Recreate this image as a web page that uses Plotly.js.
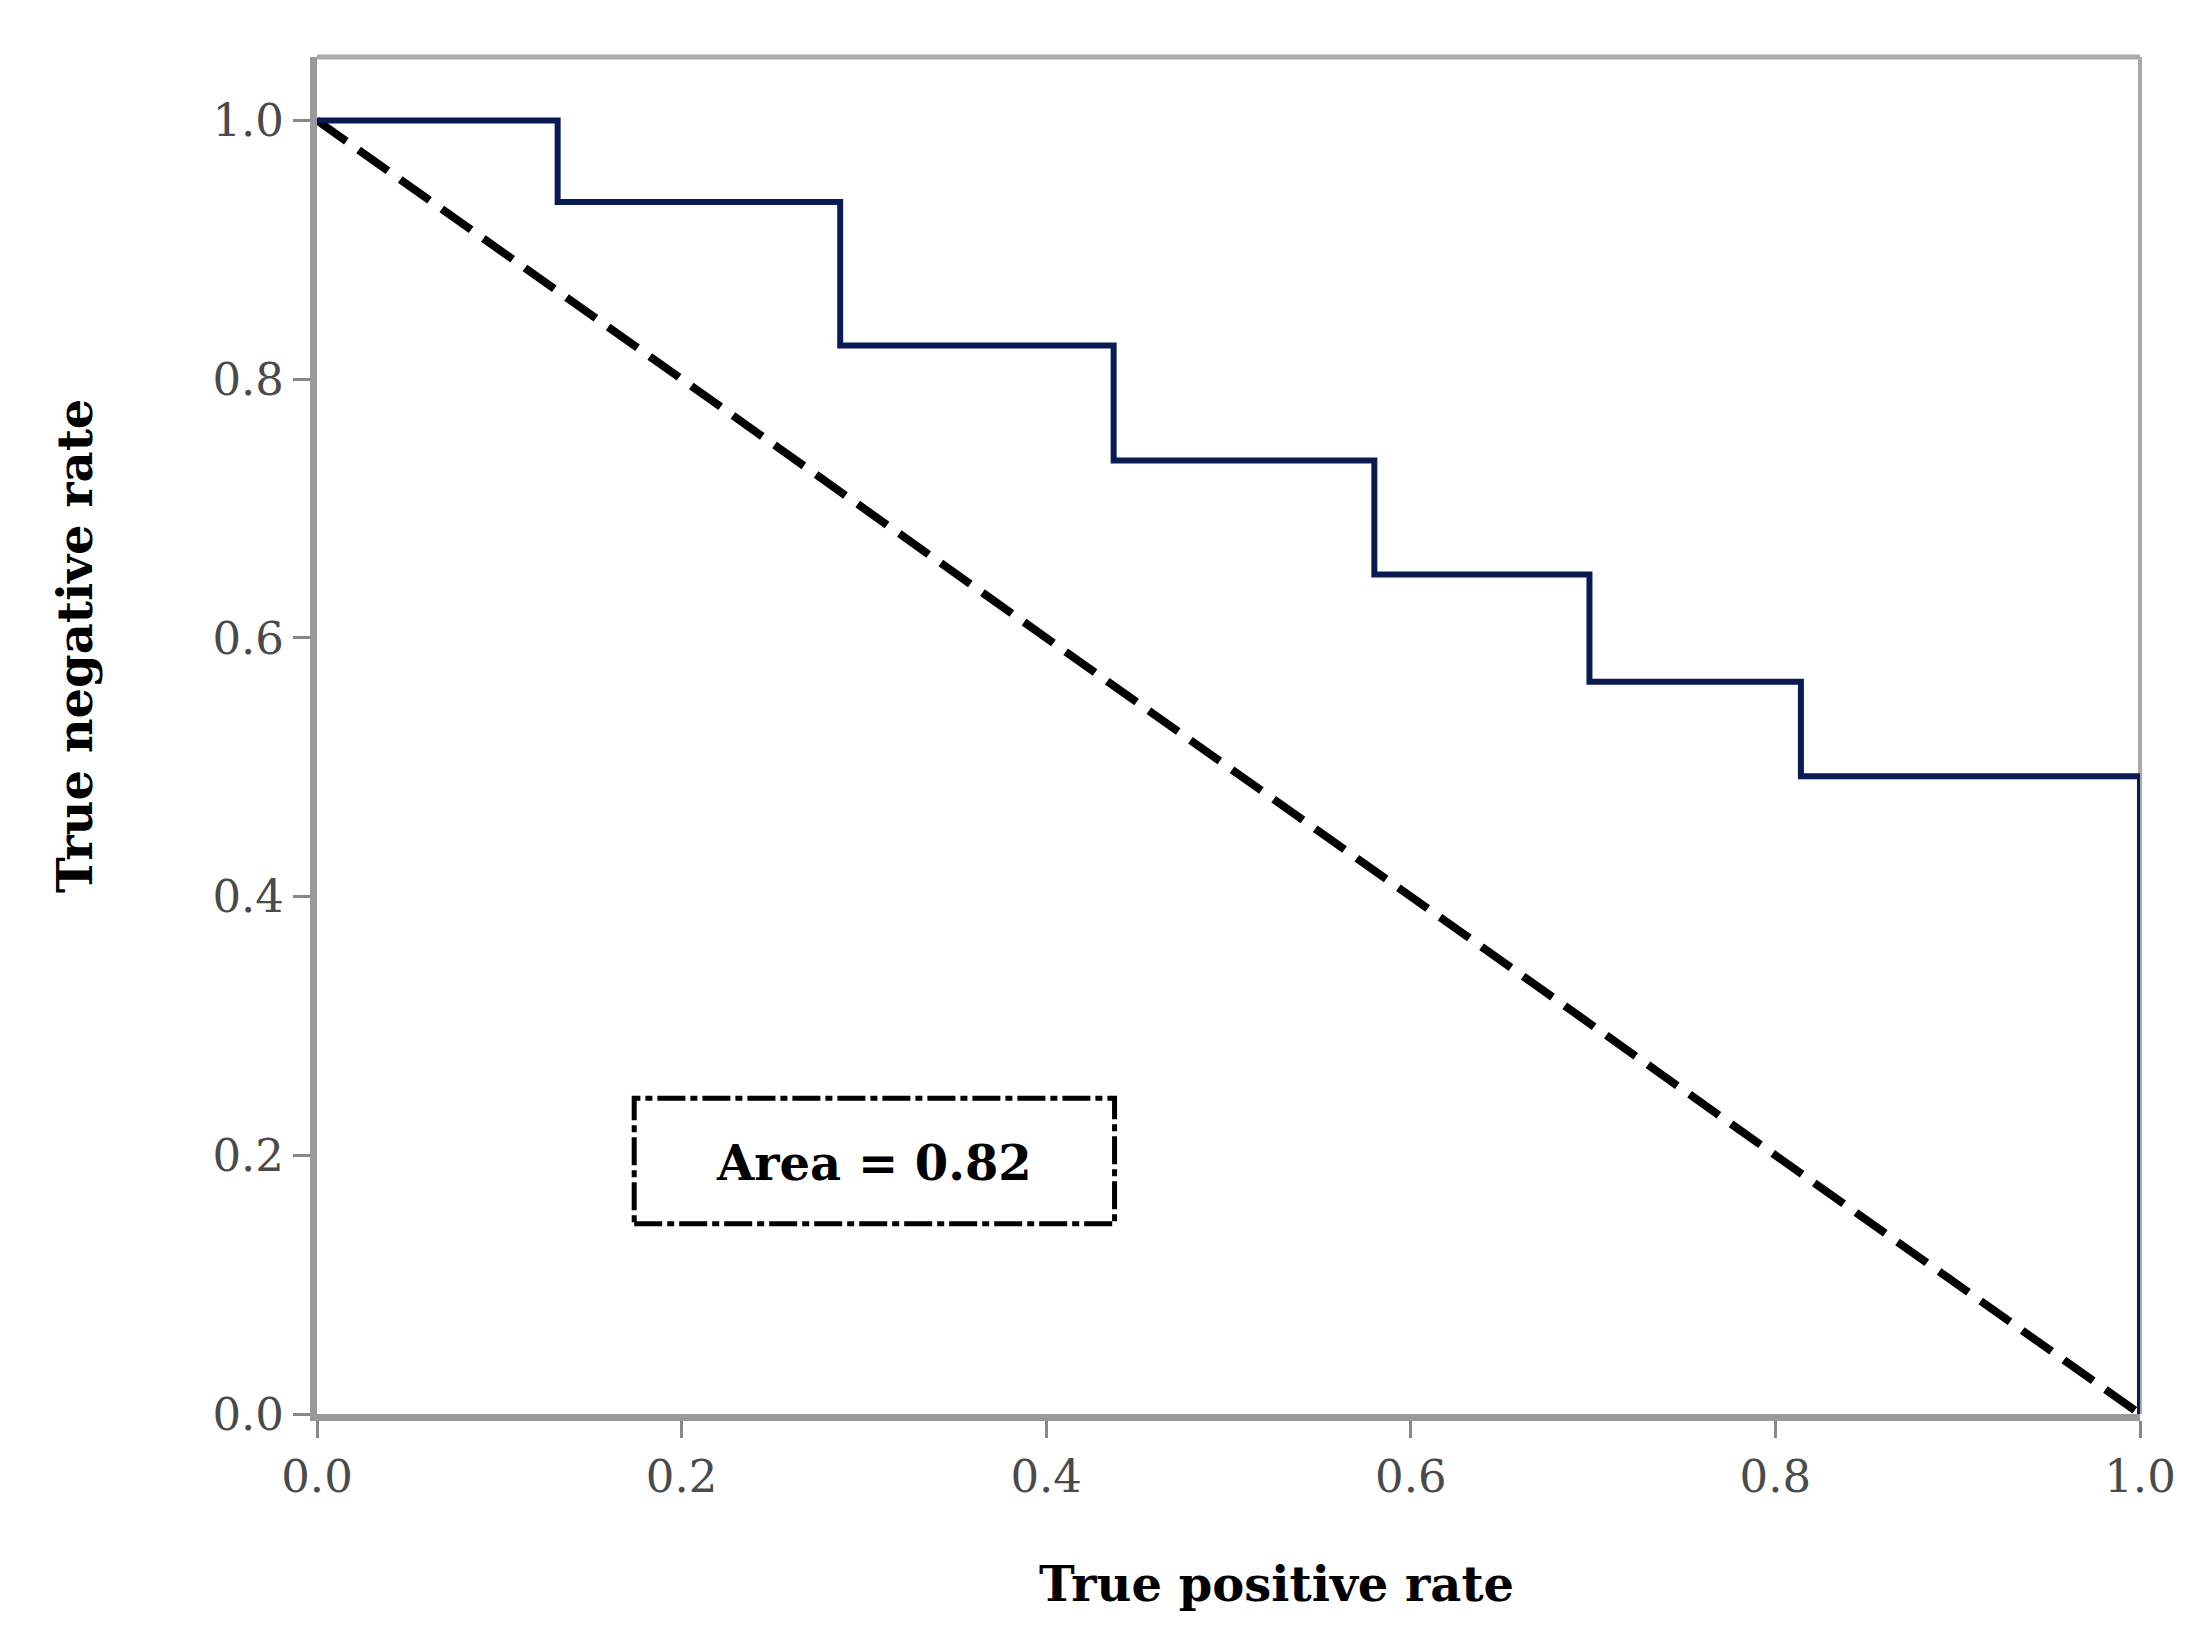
<!DOCTYPE html>
<html>
<head>
<meta charset="utf-8">
<script src="https://cdn.plot.ly/plotly-3.0.1.min.js"></script>
<style>html,body{margin:0;padding:0;background:#fff;}#chart{width:2210px;height:1637px;}</style>
</head>
<body>
<div id="chart"></div>
<script>
// ROC step curve (true positive rate vs true negative rate)
var rocX = [0, 0.132, 0.287, 0.437, 0.580, 0.698, 0.814, 1.0];
var rocY = [1.0, 0.937, 0.826, 0.737, 0.649, 0.566, 0.493, 0.0];
// chance diagonal
var diagX = [0, 1];
var diagY = [1, 0];
var tickVals = [0, 0.2, 0.4, 0.6, 0.8, 1.0];
var tickText = ["0.0", "0.2", "0.4", "0.6", "0.8", "1.0"];
var areaLabel = "Area = 0.82";
var xTitle = "True positive rate";
var yTitle = "True negative rate";

var traces = [
  {x: diagX, y: diagY, mode: "lines", type: "scatter", cliponaxis: false,
   line: {color: "#000000", width: 8, dash: "36px,15px"}, hoverinfo: "skip"},
  {x: rocX, y: rocY, mode: "lines", type: "scatter", cliponaxis: false,
   line: {color: "#0a1a55", width: 6, shape: "hv"}}
];

var tickFont = {family: "DejaVu Serif", size: 45, color: "#4a4a4a"};
var titleFont = {family: "DejaVu Serif", size: 48, color: "#000000"};

var layout = {
  width: 2210, height: 1637,
  margin: {l: 317, r: 70, t: 57, b: 223, pad: 0},
  paper_bgcolor: "#ffffff", plot_bgcolor: "#ffffff",
  showlegend: false,
  xaxis: {range: [0, 1], tickvals: tickVals, ticktext: tickText, showgrid: false, zeroline: false,
          showline: true, linecolor: "#999999", linewidth: 7,
          ticks: "outside", ticklen: 17, tickwidth: 3, tickcolor: "#888888",
          tickfont: tickFont, fixedrange: true},
  yaxis: {range: [0, 1.049], tickvals: tickVals, ticktext: tickText, showgrid: false, zeroline: false,
          showline: true, linecolor: "#999999", linewidth: 7,
          ticks: "outside", ticklen: 17, tickwidth: 3, tickcolor: "#888888",
          tickfont: tickFont, fixedrange: true},
  shapes: [
    {type: "line", xref: "paper", yref: "paper", x0: 0, x1: 1, y0: 1, y1: 1,
     line: {color: "#aaaaaa", width: 5}},
    {type: "line", xref: "paper", yref: "paper", x0: 1, x1: 1, y0: 0, y1: 1,
     line: {color: "#aaaaaa", width: 4}, layer: "below"},
    {type: "rect", xref: "x", yref: "y", x0: 0.174, x1: 0.4375, y0: 0.147, y1: 0.244,
     line: {color: "#000000", width: 5, dash: "28px,5px,7px,5px"}, fillcolor: "rgba(0,0,0,0)"}
  ],
  annotations: [
    {x: 0.3056, y: 0.194, xref: "x", yref: "y", text: "<b>" + areaLabel + "</b>", showarrow: false,
     font: titleFont, xanchor: "center", yanchor: "middle"},
    {x: 0.5266, y: -0.1253, xref: "paper", yref: "paper", text: "<b>" + xTitle + "</b>", showarrow: false,
     font: titleFont, xanchor: "center", yanchor: "middle"},
    {x: -0.1327, y: 0.566, xref: "paper", yref: "paper", text: "<b>" + yTitle + "</b>", showarrow: false,
     textangle: -90, font: titleFont, xanchor: "center", yanchor: "middle"}
  ]
};

Plotly.newPlot("chart", traces, layout, {displayModeBar: false, staticPlot: true});
</script>
</body>
</html>
